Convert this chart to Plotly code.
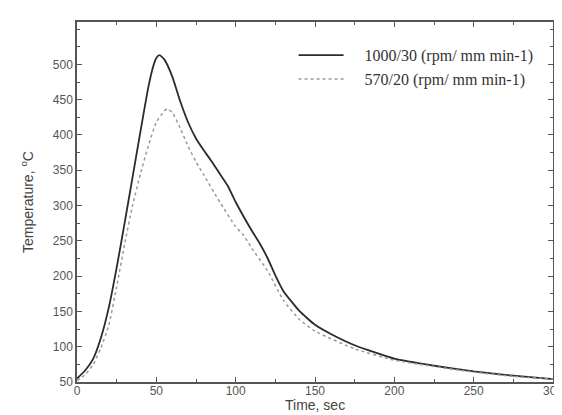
import plotly.graph_objects as go

# --- data ---
time_solid = [0, 5, 10, 15, 20, 25, 30, 35, 40, 45, 48, 50, 52, 55, 60, 65, 70, 75, 80, 85,
              90, 95, 100, 110, 115, 120, 125, 130, 140, 150, 160, 175, 200, 225, 250, 275, 300]
temp_1000_30 = [55, 66, 82, 112, 155, 212, 275, 340, 405, 468, 497, 509, 513, 507, 483, 448,
                418, 395, 378, 362, 345, 328, 305, 265, 247, 226, 201, 179, 151, 131, 118, 102,
                83, 73, 65, 59, 54]

time_dot = [0, 5, 10, 15, 20, 25, 30, 35, 40, 45, 50, 55, 57, 60, 65, 70, 75, 80, 90, 100,
            105, 110, 120, 130, 140, 150, 175, 200, 225, 250, 275, 300]
temp_570_20 = [52, 60, 74, 98, 130, 185, 245, 300, 345, 385, 418, 434, 437, 432, 410, 384,
               362, 343, 305, 270, 258, 240, 208, 166, 139, 122, 97, 81, 72, 64, 58, 54]

series_names = ["1000/30 (rpm/ mm min-1)", "570/20 (rpm/ mm min-1)"]
x_ticks = [0, 50, 100, 150, 200, 250, 300]
y_ticks = [50, 100, 150, 200, 250, 300, 350, 400, 450, 500]

pad = "&nbsp;" * 4

fig = go.Figure()
fig.add_trace(go.Scatter(x=time_solid, y=temp_1000_30, mode="lines", name=pad + series_names[0],
                         line=dict(color="#2b2b2b", width=1.8, shape="spline", smoothing=0.5)))
fig.add_trace(go.Scatter(x=time_dot, y=temp_570_20, mode="lines", name=pad + series_names[1],
                         line=dict(color="#9a9a9a", width=1.5, dash="dot", shape="spline", smoothing=0.5)))

axis_common = dict(showline=True, linecolor="#555", linewidth=1.5, mirror="allticks",
                   ticks="inside", ticklen=5, tickwidth=1, tickcolor="#555",
                   showgrid=False, zeroline=False, ticklabeloverflow="allow",
                   tickfont=dict(family="Liberation Sans, Arial", size=12, color="#555"))

fig.update_xaxes(range=[0, 300], tickvals=x_ticks, ticklabelstandoff=-3,
                 minor=dict(dtick=25, ticks="inside", ticklen=3, tickcolor="#555"),
                 **axis_common)
fig.update_yaxes(range=[50, 560], tickvals=y_ticks,
                 minor=dict(dtick=25, ticks="inside", ticklen=3, tickcolor="#555"),
                 title=dict(text="Temperature, <sup>o</sup>C", standoff=16,
                            font=dict(family="Liberation Sans, Arial", size=14, color="#444")),
                 **axis_common)

fig.add_annotation(text="Time, sec", xref="paper", yref="paper", x=0.5, y=0,
                   xanchor="center", yanchor="top", yshift=-13, showarrow=False,
                   font=dict(family="Liberation Sans, Arial", size=14, color="#444"))

fig.update_layout(
    width=562, height=415,
    margin=dict(l=69, r=7, t=14, b=41),
    paper_bgcolor="white", plot_bgcolor="white",
    legend=dict(x=0.455, y=0.955, xanchor="left", yanchor="top",
                bgcolor="rgba(0,0,0,0)", itemwidth=45, tracegroupgap=0,
                font=dict(family="Liberation Serif, Times New Roman", size=16, color="#333")),
)

fig.write_html("out.html")
